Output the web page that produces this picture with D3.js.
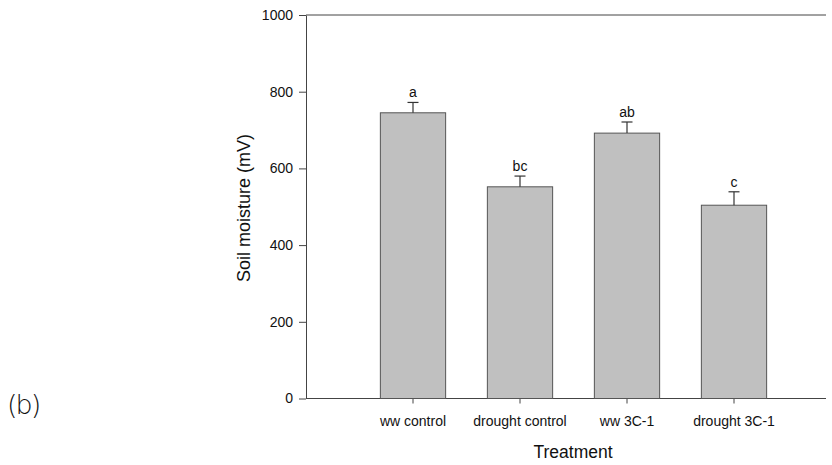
<!DOCTYPE html>
<html>
<head>
<meta charset="utf-8">
<script src="https://cdn.jsdelivr.net/npm/d3@7"></script>
<style>
  html, body { margin: 0; padding: 0; background: #fff; }
  svg { display: block; }
  text { font-family: "Liberation Sans", Arial, sans-serif; fill: #111; }
</style>
</head>
<body>
<svg id="chart" width="832" height="465"></svg>
<script>
// Soil moisture by treatment (mean ± SE) with significance letters
const categories = ["ww control", "drought control", "ww 3C-1", "drought 3C-1"];
const means = [745, 552, 692, 504];
const errors = [27, 28, 29, 35];
const letters = ["a", "bc", "ab", "c"];
const yTicks = [0, 200, 400, 600, 800, 1000];

const svg = d3.select("#chart");
const axisColor = "#444";
const fontStack = '"Liberation Sans", Arial, sans-serif';

const plotLeft = 306, plotRight = 826, plotTop = 15, plotBottom = 398.5;

const y = d3.scaleLinear().domain([0, 1000]).range([plotBottom, plotTop]);

const step = 107;
const x = d3.scaleBand()
  .domain(categories)
  .range([plotLeft + step / 2, plotLeft + step / 2 + step * categories.length])
  .paddingInner(0.39)
  .paddingOuter(0.195);

// frame: top and bottom lines
svg.append("line")
  .attr("x1", plotLeft).attr("x2", plotRight)
  .attr("y1", plotTop).attr("y2", plotTop)
  .attr("stroke", axisColor).attr("stroke-width", 1);
svg.append("line")
  .attr("x1", plotLeft).attr("x2", plotRight)
  .attr("y1", plotBottom).attr("y2", plotBottom)
  .attr("stroke", axisColor).attr("stroke-width", 1);

// y axis
const yAxis = svg.append("g")
  .attr("transform", `translate(${plotLeft},0)`)
  .call(d3.axisLeft(y).tickValues(yTicks).tickFormat(d3.format("d")).tickSize(7).tickSizeOuter(0).tickPadding(6));
yAxis.select(".domain").attr("stroke", axisColor);
yAxis.selectAll(".tick line").attr("stroke", axisColor);
yAxis.selectAll("text").attr("font-size", 14).attr("fill", "#111")
  .style("font-family", fontStack);

// x axis (ticks at bar centres)
const xAxis = svg.append("g")
  .attr("transform", `translate(0,${plotBottom})`)
  .call(d3.axisBottom(x).tickSize(5).tickSizeOuter(0).tickPadding(13));
xAxis.select(".domain").remove();
xAxis.selectAll(".tick line").attr("stroke", axisColor);
xAxis.selectAll("text").attr("font-size", 14).attr("fill", "#111")
  .style("font-family", fontStack);

// bars
svg.append("g").selectAll("rect")
  .data(categories)
  .join("rect")
  .attr("x", d => x(d))
  .attr("width", x.bandwidth())
  .attr("y", (d, i) => y(means[i]))
  .attr("height", (d, i) => y(0) - y(means[i]))
  .attr("fill", "#c0c0c0")
  .attr("stroke", "#555")
  .attr("stroke-width", 1);

// upper error bars
const eb = svg.append("g").attr("stroke", "#333").attr("stroke-width", 1.2);
categories.forEach((c, i) => {
  const cx = x(c) + x.bandwidth() / 2;
  eb.append("line")
    .attr("x1", cx).attr("x2", cx)
    .attr("y1", y(means[i])).attr("y2", y(means[i] + errors[i]));
  eb.append("line")
    .attr("x1", cx - 5.5).attr("x2", cx + 5.5)
    .attr("y1", y(means[i] + errors[i])).attr("y2", y(means[i] + errors[i]));
});

// significance letters
svg.append("g").selectAll("text")
  .data(categories)
  .join("text")
  .attr("x", d => x(d) + x.bandwidth() / 2)
  .attr("y", (d, i) => y(means[i] + errors[i]) - 5)
  .attr("text-anchor", "middle")
  .attr("font-size", 14)
  .text((d, i) => letters[i]);

// axis titles
svg.append("text")
  .attr("x", 573).attr("y", 458)
  .attr("text-anchor", "middle")
  .attr("font-size", 17.5)
  .text("Treatment");

svg.append("text")
  .attr("transform", `translate(250,208) rotate(-90)`)
  .attr("text-anchor", "middle")
  .attr("font-size", 18)
  .text("Soil moisture (mV)");

// panel label
svg.append("text")
  .attr("x", 7).attr("y", 414)
  .attr("font-size", 27)
  .attr("letter-spacing", -2)
  .style("font-family", '"DejaVu Sans", sans-serif')
  .style("font-weight", 200)
  .style("fill", "#111")
  .text("(b)");
</script>
</body>
</html>
